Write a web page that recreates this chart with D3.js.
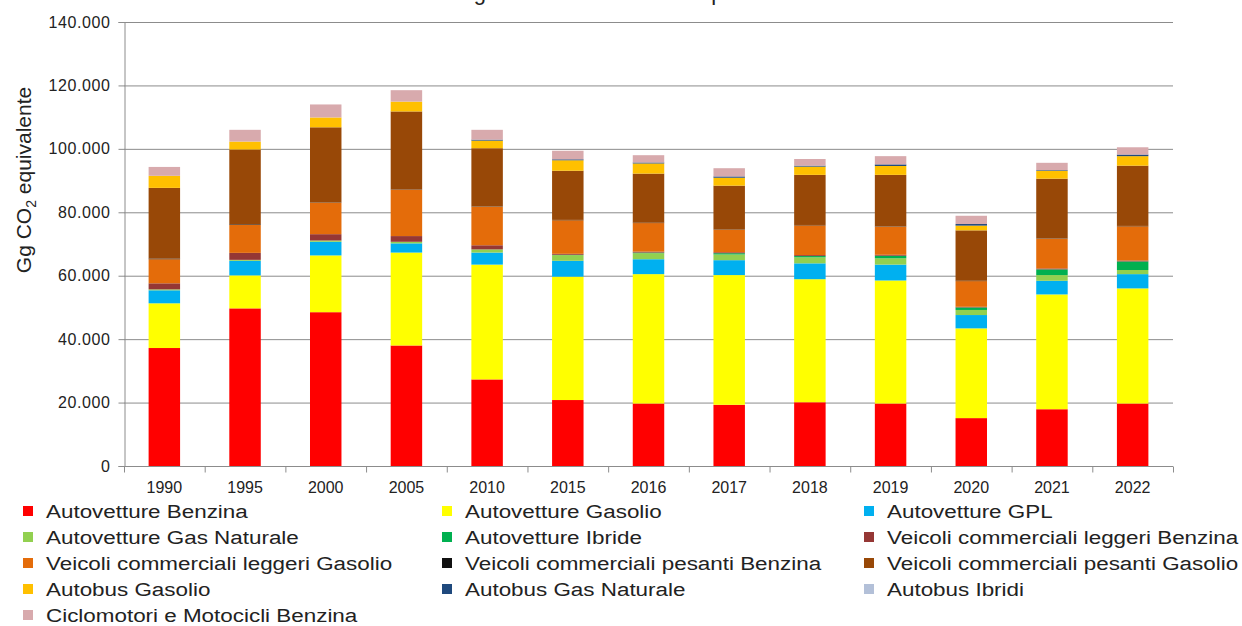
<!DOCTYPE html>
<html lang="it">
<head>
<meta charset="utf-8">
<title>Emissioni trasporto su strada</title>
<script src="https://cdn.jsdelivr.net/npm/d3@7"></script>
<style>
  body { margin: 0; background: #fff; }
  svg text { font-family: "Liberation Sans", Arial, sans-serif; fill: #222; }
</style>
</head>
<body>
<div id="chart"></div>
<script>
// years on the x axis
var years = ["1990","1995","2000","2005","2010","2015","2016","2017","2018","2019","2020","2021","2022"];

// series, Gg CO2 eq
var autoBenzina   = [37200, 49700, 48500, 38000, 27300, 20800, 19700, 19300, 20100, 19700, 15100, 17900, 19700];
var autoGasolio   = [14100, 10400, 17900, 29300, 36200, 38900, 40800, 40900, 38800, 38800, 28300, 36200, 36300];
var autoGPL       = [ 4100,  4600,  4300,  2900,  3800,  5000,  4700,  4700,  5000,  5000,  4200,  4300,  4500];
var autoGasNat    = [  300,   300,   400,   500,  1000,  1800,  1900,  1800,  1900,  2000,  1600,  1800,  1300];
var autoIbride    = [    0,     0,     0,     0,     0,   100,   200,   400,   400,   800,   800,  1800,  2700];
var vclBenzina    = [ 1900,  2200,  2000,  1800,  1300,   300,   300,   300,   300,   300,   200,   300,   300];
var vclGasolio    = [ 7600,  8800, 10000, 14700, 12200, 10600,  9000,  7200,  9400,  8900,  8100,  9400, 10800];
var vcpBenzina    = [  200,   200,   100,   100,   100,   100,   100,   100,   100,   100,   100,   100,   100];
var vcpGasolio    = [22300, 23600, 23600, 24500, 18300, 15500, 15500, 13700, 15800, 16200, 15900, 18800, 19000];
var busGasolio    = [ 3800,  2500,  3100,  3100,  2400,  3300,  3200,  2500,  2600,  2800,  1500,  2500,  3000];
var busGasNat     = [    0,     0,     0,     0,   300,   300,   300,   400,   300,   500,   500,   200,   500];
var busIbridi     = [    0,     0,     0,     0,     0,     0,     0,     0,     0,     0,     0,     0,     0];
var ciclomotori   = [ 2800,  3700,  4100,  3600,  3100,  2700,  2300,  2600,  2100,  2600,  2600,  2300,  2300];

var seriesNames = ["Autovetture Benzina", "Autovetture Gasolio", "Autovetture GPL",
  "Autovetture Gas Naturale", "Autovetture Ibride", "Veicoli commerciali leggeri Benzina",
  "Veicoli commerciali leggeri Gasolio", "Veicoli commerciali pesanti Benzina", "Veicoli commerciali pesanti Gasolio",
  "Autobus Gasolio", "Autobus Gas Naturale", "Autobus Ibridi", "Ciclomotori e Motocicli Benzina"];
var seriesValues = [autoBenzina, autoGasolio, autoGPL, autoGasNat, autoIbride, vclBenzina,
  vclGasolio, vcpBenzina, vcpGasolio, busGasolio, busGasNat, busIbridi, ciclomotori];
var seriesColors = ["#ff0000", "#ffff00", "#00b0f0", "#92d050", "#00b050", "#953735",
  "#e46c0a", "#111111", "#984807", "#ffc000", "#1f497d", "#b3c0d8", "#d8aaad"];

var yTicks = [0, 20000, 40000, 60000, 80000, 100000, 120000, 140000];

var width = 1242, height = 626;
var margin = {left: 124, right: 69, top: 22, bottom: 160};
var plotW = width - margin.left - margin.right;
var plotH = height - margin.top - margin.bottom;

// build table rows for d3.stack
var table = years.map(function(y, i){
  var row = {year: y};
  seriesNames.forEach(function(n, k){ row[n] = seriesValues[k][i]; });
  return row;
});

var stacked = d3.stack().keys(seriesNames)(table);

var svg = d3.select("#chart").append("svg")
  .attr("width", width)
  .attr("height", height);

// title, cut by the top edge in the picture
svg.append("text")
  .attr("x", 262).attr("y", 0)
  .attr("textLength", 762)
  .style("font-size", "22px")
  .text("Le emissioni di gas serra dal trasporto su strada in Italia");

var g = svg.append("g").attr("transform", "translate(" + margin.left + "," + margin.top + ")");

var xScale = d3.scaleBand().domain(years).range([0, plotW]).padding(0);
var yScale = d3.scaleLinear().domain([0, 140000]).range([plotH, 0]);

var it = d3.formatLocale({decimal: ",", thousands: ".", grouping: [3], currency: ["", ""]});
var fmt = it.format(",d");

// gridlines
g.selectAll("line.grid")
  .data(yTicks.slice(1))
  .enter().append("line")
  .attr("class", "grid")
  .attr("x1", 0).attr("x2", plotW)
  .attr("y1", function(d){ return yScale(d) + 0.5; })
  .attr("y2", function(d){ return yScale(d) + 0.5; })
  .attr("stroke", "#8c8c8c").attr("stroke-width", 1);

// bars
var barW = xScale.bandwidth() * 0.39;
g.selectAll("g.layer")
  .data(stacked)
  .enter().append("g")
  .attr("class", "layer")
  .attr("fill", function(d, i){ return seriesColors[i]; })
  .selectAll("rect")
  .data(function(d){ return d; })
  .enter().append("rect")
  .attr("x", function(d){ return xScale(d.data.year) + (xScale.bandwidth() - barW) / 2; })
  .attr("y", function(d){ return yScale(d[1]); })
  .attr("width", barW)
  .attr("height", function(d){ return yScale(d[0]) - yScale(d[1]); });

// y axis
var yAxis = d3.axisLeft(yScale).tickValues(yTicks).tickFormat(fmt).tickSizeOuter(0).tickSize(6).tickPadding(8);
var ya = g.append("g").attr("transform", "translate(0.5,0)").call(yAxis);
ya.selectAll("text").style("font-size", "16px").style("letter-spacing", "0.6px");
ya.selectAll("line, path").attr("stroke", "#8c8c8c");

// x axis with ticks on category edges
var xa = g.append("g").attr("transform", "translate(0," + (plotH + 0.5) + ")");
xa.append("line").attr("x1", 0).attr("x2", plotW).attr("stroke", "#8c8c8c");
xa.selectAll("line.tk")
  .data(years.concat(["end"]))
  .enter().append("line")
  .attr("class", "tk")
  .attr("x1", function(d, i){ return i * xScale.step() + 0.5; })
  .attr("x2", function(d, i){ return i * xScale.step() + 0.5; })
  .attr("y1", 0).attr("y2", 6)
  .attr("stroke", "#8c8c8c");
xa.selectAll("text")
  .data(years)
  .enter().append("text")
  .attr("x", function(d){ return xScale(d) + xScale.bandwidth() / 2; })
  .attr("y", 26)
  .attr("text-anchor", "middle")
  .style("font-size", "16px")
  .text(function(d){ return d; });

// y axis title
var yt = svg.append("text")
  .attr("transform", "translate(31,180) rotate(-90)")
  .attr("text-anchor", "middle")
  .style("font-size", "21px");
yt.append("tspan").text("Gg CO");
yt.append("tspan").attr("dy", 5).style("font-size", "14px").text("2");
yt.append("tspan").attr("dy", -5).text(" equivalente");

// legend, 3 columns
var colX = [23, 442, 864];
var legend = svg.selectAll("g.leg")
  .data(seriesNames)
  .enter().append("g")
  .attr("class", "leg")
  .attr("transform", function(d, i){
    return "translate(" + colX[i % 3] + "," + (511 + Math.floor(i / 3) * 26) + ")";
  });
legend.append("rect")
  .attr("x", 0).attr("y", -5)
  .attr("width", 10).attr("height", 10)
  .attr("fill", function(d, i){ return seriesColors[i]; });
legend.append("text")
  .attr("transform", "translate(23,6.5) scale(1.18,1)")
  .style("font-size", "19px")
  .text(function(d){ return d; });
</script>
</body>
</html>
